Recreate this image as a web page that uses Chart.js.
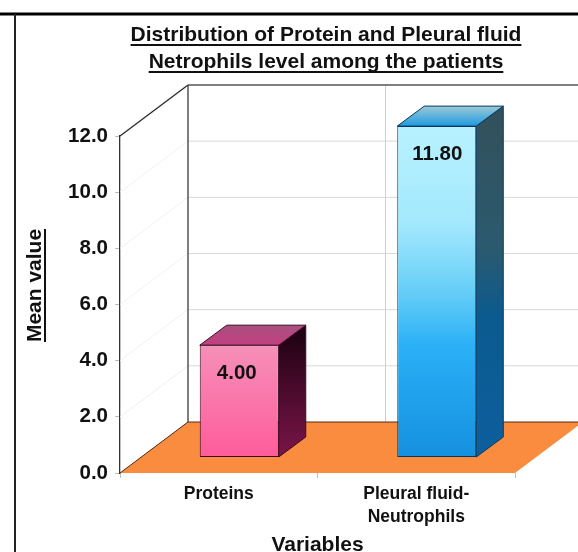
<!DOCTYPE html>
<html><head><meta charset="utf-8">
<script src="https://cdn.jsdelivr.net/npm/chart.js@4/dist/chart.umd.js"></script>
<style>html,body{margin:0;padding:0;background:#fff;overflow:hidden}canvas{display:block}</style>
</head><body><canvas id="c" width="578" height="552"></canvas>
<script>
const titleLines = ['Distribution of Protein and Pleural fluid', 'Netrophils level among the patients'];
const categories = ['Proteins', ['Pleural fluid-', 'Neutrophils']];
const barValues = [4.00, 11.80];
const yAxisTitle = 'Mean value';
const xAxisTitle = 'Variables';
const yTicksMin = 0, yTicksMax = 12, yTicksStep = 2;

const FONT = '"Liberation Sans", Arial, sans-serif';
const wallDX = 68, wallDY = 51, barDX = 27, barDY = 20;
const barShiftX = (wallDX - barDX) / 2, barShiftY = (wallDY - barDY) / 2;
const TEXT = '#111';
const labelNudge = [-2.5, 0.5];

const frontStops = [
  [[0, '#f590b8'], [1, '#ff5c9a']],
  [[0, '#b8f2ff'], [0.3, '#a2e8fd'], [0.52, '#5fcbf7'], [0.66, '#2bb0f6'], [1, '#1590e0']]
];
const sideStops = [
  [[0, '#1a0010'], [1, '#7c1549']],
  [[0, '#33505a'], [0.4, '#2b5a6e'], [0.6, '#0b5a8f'], [1, '#0d5f9e']]
];
const topStops = [
  [[0, '#c23f80'], [1, '#a9507e']],
  [[0, '#1e9ae0'], [1, '#9cc9d6']]
];
const edgeColors = ['#3a0a25', '#08385e'];

function grad(ctx, y0, y1, stops) {
  const g = ctx.createLinearGradient(0, y0, 0, y1);
  stops.forEach(s => g.addColorStop(s[0], s[1]));
  return g;
}
function poly(ctx, pts, fill, stroke, lw) {
  ctx.beginPath();
  pts.forEach((p, i) => i ? ctx.lineTo(p[0], p[1]) : ctx.moveTo(p[0], p[1]));
  ctx.closePath();
  if (fill) { ctx.fillStyle = fill; ctx.fill(); }
  if (stroke) { ctx.strokeStyle = stroke; ctx.lineWidth = lw || 1; ctx.stroke(); }
}
function seg(ctx, x0, y0, x1, y1, color, lw) {
  ctx.beginPath(); ctx.moveTo(x0, y0); ctx.lineTo(x1, y1);
  ctx.strokeStyle = color; ctx.lineWidth = lw; ctx.stroke();
}

const scene3d = {
  id: 'scene3d',
  afterLayout(chart) {
    const t = chart.titleBlock;
    t.left += 68.5; t.right += 68.5;
    const y = chart.scales.y, x = chart.scales.x;
    if (!y._wrapped) {
      y._wrapped = true;
      const dy = y.drawTitle.bind(y);
      y.drawTitle = () => { chart.ctx.save(); chart.ctx.translate(0, -19); dy(); chart.ctx.restore(); };
      const dx = x.drawTitle.bind(x);
      x.drawTitle = () => { chart.ctx.save(); chart.ctx.translate(0, 5); dx(); chart.ctx.restore(); };
    }
  },
  beforeDraw(chart) {
    const c = chart.ctx;
    seg(c, 0, 14, 578, 14, '#000', 3);
    seg(c, 15, 14, 15, 552, '#222', 2);
  },
  beforeDatasetsDraw(chart) {
    const c = chart.ctx, a = chart.chartArea, ys = chart.scales.y, xs = chart.scales.x;
    c.save();
    const y0 = ys.getPixelForValue(yTicksMin), yT = ys.getPixelForValue(yTicksMax);
    ys.ticks.forEach(t => {
      if (t.value === yTicksMin || t.value === yTicksMax) return;
      const p = ys.getPixelForValue(t.value);
      seg(c, a.left, p, a.left + wallDX, p - wallDY, '#f0f0f0', 1);
      seg(c, a.left + wallDX, p - wallDY, a.right + wallDX, p - wallDY, '#d8d8d8', 1);
    });
    const mid = (xs.getPixelForValue(0) + xs.getPixelForValue(1)) / 2 + wallDX;
    seg(c, mid, yT - wallDY, mid, y0 - wallDY, '#d0d0d0', 1);
    poly(c, [[a.left, y0], [a.right, y0], [a.right + wallDX, y0 - wallDY], [a.left + wallDX, y0 - wallDY]], '#f98c3e');
    seg(c, a.left + wallDX, y0 - wallDY, a.right + wallDX, y0 - wallDY, '#5a2a10', 1);
    seg(c, a.left, y0, a.left + wallDX, y0 - wallDY, '#4a2a10', 1);
    seg(c, a.left, yT, a.left + wallDX, yT - wallDY, '#2a2a2a', 1.3);
    seg(c, a.left + wallDX, yT - wallDY, a.left + wallDX, y0 - wallDY, '#3a3a3a', 1.3);
    seg(c, a.left + wallDX, yT - wallDY, a.right + wallDX, yT - wallDY, '#555', 1.3);
    c.restore();
  },
  beforeDatasetDraw(chart) {
    chart.ctx.save();
    chart.ctx.translate(barShiftX, -barShiftY);
  },
  afterDatasetDraw(chart, args) {
    const c = chart.ctx, meta = args.meta;
    meta.data.forEach((bar, i) => {
      const p = bar.getProps(['x', 'y', 'base', 'width'], true);
      const xl = p.x - p.width / 2, xr = p.x + p.width / 2;
      poly(c, [[xr, p.y], [xr + barDX, p.y - barDY], [xr + barDX, p.base - barDY], [xr, p.base]],
        grad(c, p.y - barDY, p.base, sideStops[i]), edgeColors[i], 1);
      poly(c, [[xl, p.y], [xr, p.y], [xr + barDX, p.y - barDY], [xl + barDX, p.y - barDY]],
        grad(c, p.y, p.y - barDY, topStops[i]), edgeColors[i], 1);
      c.fillStyle = TEXT;
      c.font = 'bold 20.5px ' + FONT;
      c.textAlign = 'center';
      c.textBaseline = 'middle';
      c.fillText(barValues[i].toFixed(2), p.x + labelNudge[i], p.y + 28);
    });
    c.restore();
  },
  afterDraw(chart) {
    const c = chart.ctx;
    c.save();
    c.font = 'bold 21px ' + FONT;
    const cx = (chart.titleBlock.left + chart.titleBlock.right) / 2;
    [45, 72].forEach((yy, i) => {
      const w = c.measureText(titleLines[i]).width;
      seg(c, cx - w / 2, yy, cx + w / 2, yy, TEXT, 2);
    });
    const w = c.measureText(yAxisTitle).width;
    const yc = (chart.chartArea.top + chart.chartArea.bottom) / 2 - 19;
    seg(c, 45, yc - w / 2, 45, yc + w / 2, TEXT, 2);
    c.restore();
  }
};

new Chart(document.getElementById('c'), {
  type: 'bar',
  data: {
    labels: categories,
    datasets: [{
      data: barValues,
      clip: false,
      categoryPercentage: 1,
      barPercentage: 0.4,
      borderWidth: 1,
      borderSkipped: false,
      borderColor: edgeColors,
      backgroundColor(ctx) {
        const ys = ctx.chart.scales.y;
        if (!ys || ctx.dataIndex === undefined) return '#888';
        const top = ys.getPixelForValue(barValues[ctx.dataIndex]), bot = ys.getPixelForValue(0);
        if (!isFinite(top) || !isFinite(bot)) return '#888';
        return grad(ctx.chart.ctx, top, bot, frontStops[ctx.dataIndex]);
      }
    }]
  },
  plugins: [scene3d],
  options: {
    responsive: false,
    animation: false,
    layout: { padding: { left: 0, right: 63, top: 0, bottom: 0 } },
    plugins: {
      legend: { display: false },
      tooltip: { enabled: false },
      title: {
        display: true,
        text: titleLines,
        color: TEXT,
        font: { family: FONT, size: 21, weight: 'bold', lineHeight: 27 / 21 },
        padding: { top: 22, bottom: 60 }
      }
    },
    scales: {
      x: {
        afterFit(s) { s.height = 79; },
        border: { display: false },
        grid: { drawOnChartArea: false, drawTicks: true, tickLength: 5, color: '#bdbdbd' },
        ticks: { maxRotation: 0, autoSkip: false, padding: 5, color: TEXT, font: { family: FONT, size: 17.5, weight: 'bold', lineHeight: 23 / 17.5 } },
        title: { display: true, text: xAxisTitle, color: TEXT, padding: { top: 0, bottom: -1 }, font: { family: FONT, size: 21, weight: 'bold' } }
      },
      y: {
        min: yTicksMin, max: yTicksMax,
        afterFit(s) { s.width = 120; },
        border: { display: true, color: '#333', width: 1.3 },
        grid: { drawOnChartArea: false, drawTicks: true, tickLength: 5, color: '#bdbdbd' },
        ticks: { stepSize: yTicksStep, padding: 7, color: TEXT, font: { family: FONT, size: 20.5, weight: 'bold' }, callback: v => Number(v).toFixed(1) },
        title: { display: true, text: yAxisTitle, color: TEXT, padding: { top: 23, bottom: 0 }, font: { family: FONT, size: 21, weight: 'bold' } }
      }
    }
  }
});
</script></body></html>
